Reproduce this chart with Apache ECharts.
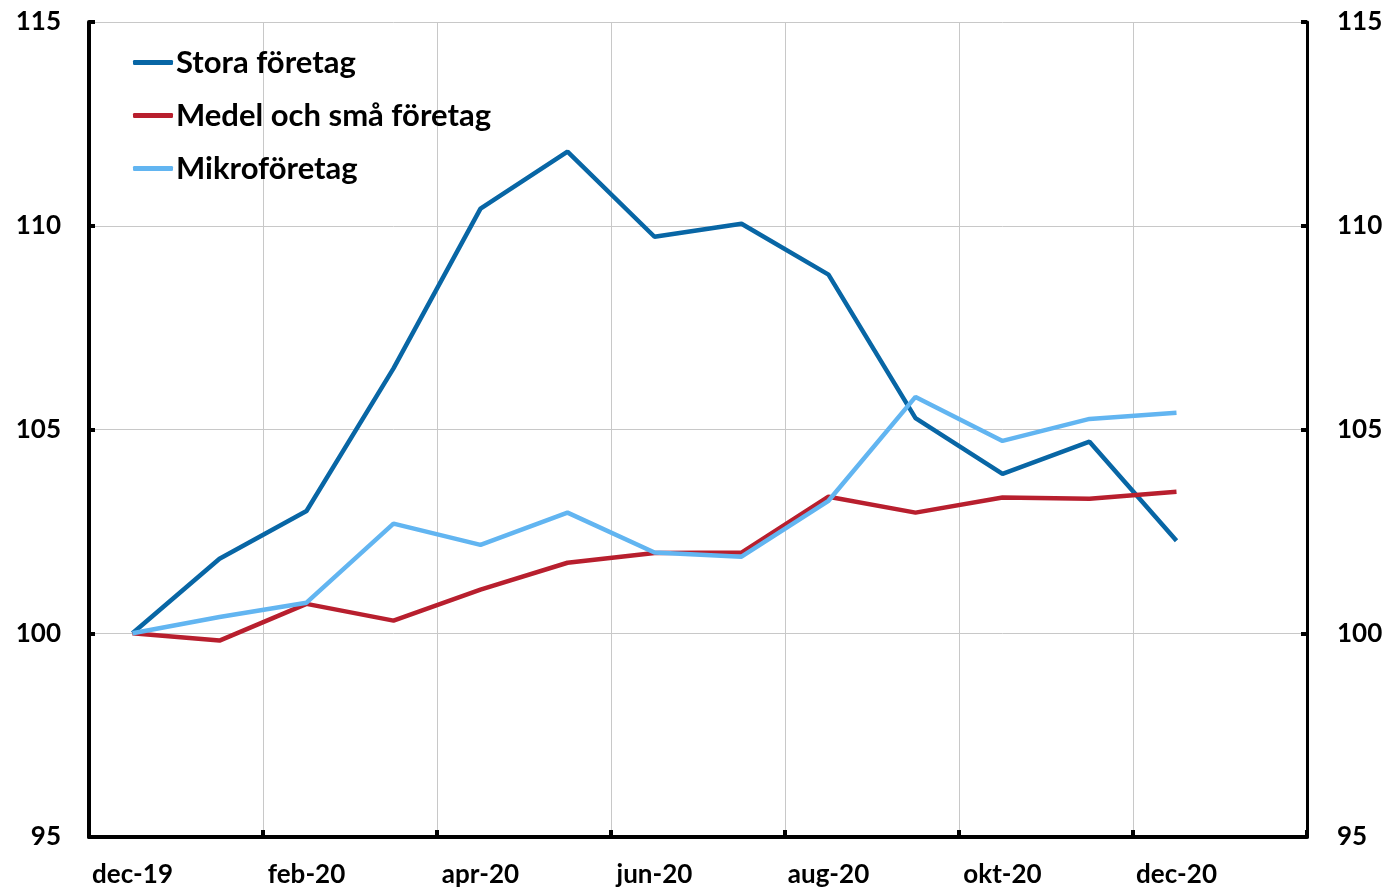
<!DOCTYPE html>
<html>
<head>
<meta charset="utf-8">
<script src="https://cdn.jsdelivr.net/npm/echarts@6/dist/echarts.min.js"></script>
<style>
    html, body { margin: 0; padding: 0; background: #fff; }
    #chart { width: 1386px; height: 889px; }
</style>
</head>
<body>
<div id="chart"></div>
<script>
    // månader, dec-19 .. jan-21 (sista kategorin tom)
    var months = ["dec-19", "jan-20", "feb-20", "mar-20", "apr-20", "maj-20", "jun-20",
                  "jul-20", "aug-20", "sep-20", "okt-20", "nov-20", "dec-20", "jan-21"];
    var stora = [100, 101.83, 103.0, 106.5, 110.42, 111.82, 109.73, 110.05, 108.8, 105.28, 103.91, 104.7, 102.27];
    var medel = [100, 99.82, 100.72, 100.31, 101.07, 101.73, 101.97, 101.98, 103.35, 102.96, 103.33, 103.3, 103.47];
    var mikro = [100, 100.4, 100.75, 102.69, 102.17, 102.96, 101.98, 101.88, 103.25, 105.8, 104.72, 105.26, 105.41];
    var yTicks = [95, 100, 105, 110, 115];

    var font = "Lato, 'Open Sans', sans-serif";
    var chart = echarts.init(document.getElementById("chart"));

    function makeLine(name, data, color) {
        return {
            name: name,
            type: "line",
            data: data,
            symbol: "none",
            lineStyle: { color: color, width: 4.5 },
            itemStyle: { color: color },
            z: 3
        };
    }

    function yAxis(pos, showSplit) {
        return {
            type: "value",
            position: pos,
            min: yTicks[0],
            max: yTicks[yTicks.length - 1],
            interval: 5,
            axisLine: { show: true, lineStyle: { color: "#000", width: pos == "left" ? 4 : 3 } },
            axisTick: { show: true, inside: true, length: 6, lineStyle: { color: "#000", width: 4 } },
            axisLabel: {
                color: "#000",
                fontFamily: font,
                fontWeight: "bold",
                fontSize: 26,
                margin: pos == "left" ? 28 : 30
            },
            splitLine: { show: showSplit, lineStyle: { color: "#c8c8c8", width: 1 } }
        };
    }

    var option = {
        animation: false,
        backgroundColor: "#fff",
        grid: { left: 89, right: 79, top: 22, bottom: 52, containLabel: false },
        legend: {
            orient: "vertical",
            left: 128,
            top: 42,
            itemGap: 22,
            itemWidth: 40,
            itemHeight: 5,
            icon: "roundRect",
            textStyle: { fontFamily: font, fontWeight: "bold", fontSize: 31, color: "#000", padding: [0, 0, 0, -2] },
            data: ["Stora företag", "Medel och små företag", "Mikroföretag"]
        },
        xAxis: {
            type: "category",
            data: months,
            boundaryGap: true,
            axisLine: { show: true, lineStyle: { color: "#000", width: 4 } },
            axisTick: { show: true, inside: true, length: 7, interval: 1, lineStyle: { color: "#000", width: 4 } },
            axisLabel: {
                interval: 1,
                color: "#000",
                fontFamily: font,
                fontWeight: "bold",
                fontSize: 26,
                margin: 25
            },
            splitLine: { show: true, interval: 1, lineStyle: { color: "#c8c8c8", width: 1 } }
        },
        yAxis: [yAxis("left", true), yAxis("right", false)],
        series: [
            makeLine("Stora företag", stora, "#0866A5"),
            makeLine("Medel och små företag", medel, "#B81F2E"),
            makeLine("Mikroföretag", mikro, "#62B5F1")
        ]
    };
    chart.setOption(option);
</script>
</body>
</html>
